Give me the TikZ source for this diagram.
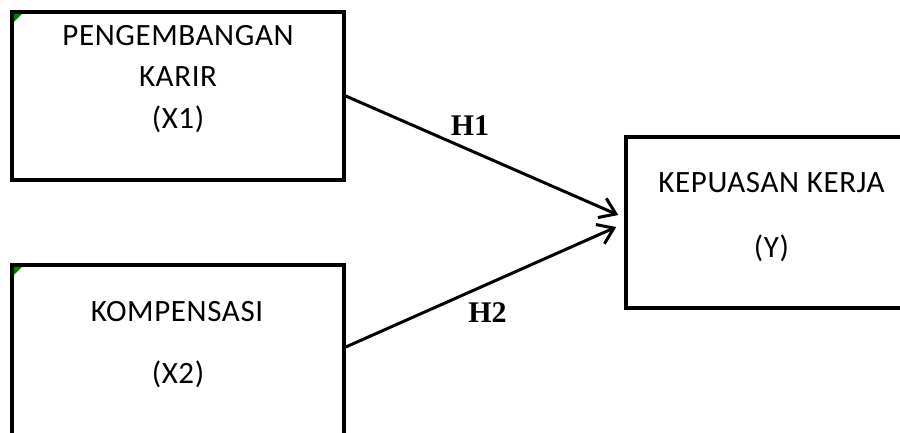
\documentclass[tikz,border=0pt]{standalone}
\usepackage{fontspec}
\newfontfamily\boxfont[LetterSpace=2]{Carlito}
\newfontfamily\labfont{Liberation Serif}
\usetikzlibrary{arrows.meta}
\begin{document}
\begin{tikzpicture}[x=1pt,y=-1pt,
  box/.style={draw=black,line width=3.5pt,rectangle,inner sep=0pt},
  txt/.style={anchor=base,inner sep=0pt,font=\boxfont\fontsize{31}{32}\selectfont},
  hlab/.style={anchor=base,inner sep=0pt,font=\labfont\bfseries\fontsize{30}{31}\selectfont},
  arr/.style={line width=3pt,-{Straight Barb[length=15pt,width=21pt,line width=3pt]}},
  corner/.style={fill=green!50!black}]
\useasboundingbox (0,0) rectangle (900,432);
\clip (0,0) rectangle (900,432);
\fill[white] (0,0) rectangle (900,432);
% boxes
\node[box,minimum width=332pt,minimum height=168pt] (b1) at (178,96) {};
\node[box,minimum width=332pt,minimum height=170pt] (b2) at (178,350) {};
\node[box,minimum width=291pt,minimum height=171pt] (b3) at (771.5,222.5) {};
% corner marks
\fill[corner] (13.8,13.8) -- (22,13.8) -- (13.8,22) -- cycle;
\fill[corner] (13.8,266.8) -- (22,266.8) -- (13.8,275) -- cycle;
% texts
\node[txt] (t1a) at (178,45) {PENGEMBANGAN};
\node[txt] (t1b) at (178,86) {KARIR};
\node[txt] (t1c) at (178,128) {(X1)};
\node[txt] (t2a) at (177,321) {KOMPENSASI};
\node[txt] (t2b) at (178,383) {(X2)};
\node[txt] (t3a) at (771.5,192) {KEPUASAN KERJA};
\node[txt] (t3b) at (771.5,257) {(Y)};
% arrows
\draw[arr] (b1.east) -- ([xshift=-6pt,yshift=7.5pt]b3.west);
\draw[arr] ([yshift=3pt]b2.east) -- ([xshift=-8pt,yshift=-4.5pt]b3.west);
% labels
\node[hlab] (h1) at (470,135) {H1};
\node[hlab] (h2) at (487.5,322) {H2};
\end{tikzpicture}
\end{document}
